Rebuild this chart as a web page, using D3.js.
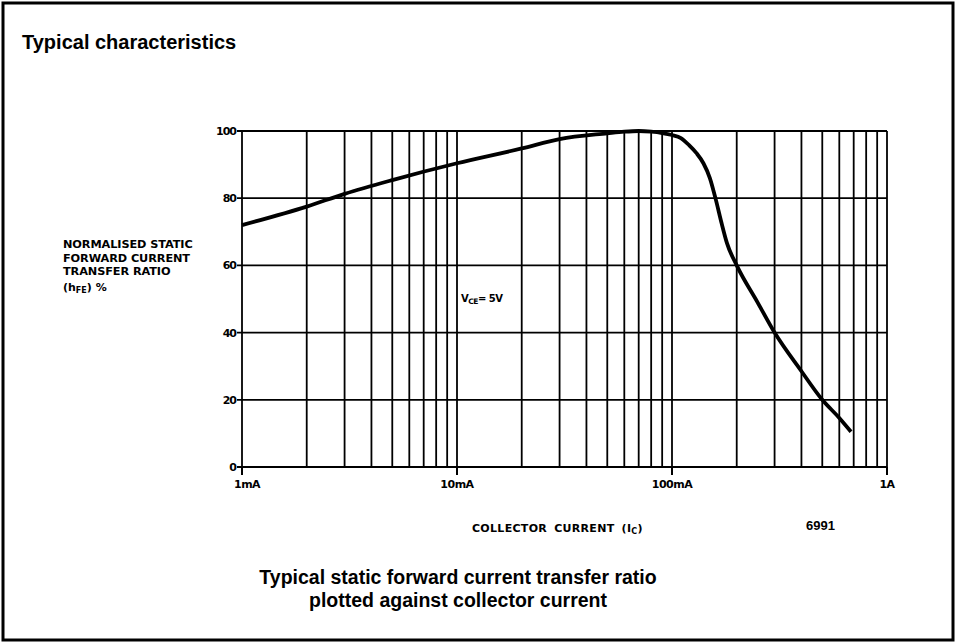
<!DOCTYPE html>
<html lang="en">
<head>
    <title>hFE vs collector current</title>
    <script src='https://d3js.org/d3.v7.min.js'></script>
    <style>
        body { margin: 0; background: #fff; }
        text { font-family: "Liberation Sans", Arial, sans-serif; fill: #000; }
        .small { font-family: "DejaVu Sans", sans-serif; font-weight: bold; }
    </style>
</head>
<body>
<script>

// collector current (mA) and normalised hFE (%)
var currents = [1, 2, 3, 5, 10, 20, 30, 50, 60, 70, 80, 90, 100, 110, 120, 130, 140, 150, 160, 170, 180, 200, 250, 300, 400, 500, 600, 680];
var hfe      = [72, 77.5, 81.3, 85.4, 90.4, 94.8, 97.6, 99.3, 99.8, 100, 99.8, 99.4, 98.8, 97.9, 95.8, 93.4, 90.4, 86, 79.5, 72.6, 66.7, 60, 49, 40, 28.5, 20, 14.6, 10.5];

var yTicks   = [0, 20, 40, 60, 80, 100];
var xTicks   = [1, 10, 100, 1000];
var xLabels  = ["1mA", "10mA", "100mA", "1A"];

const W = 956, H = 644;

const svg = d3.select("body")
    .append("svg")
    .attr("width", W)
    .attr("height", H);

// outer frame
svg.append("rect")
    .attr("x", 3).attr("y", 3)
    .attr("width", 950).attr("height", 637)
    .attr("fill", "none")
    .attr("stroke", "#000")
    .attr("stroke-width", 3);

svg.append("text")
    .attr("x", 22).attr("y", 49)
    .attr("font-size", 20)
    .attr("font-weight", "bold")
    .text("Typical characteristics");

// scales
var x = d3.scaleLog().domain([1, 1000]).range([242, 887]);
var y = d3.scaleLinear().domain([0, 100]).range([467, 131]);

// vertical grid: 1..9 in every decade
var gridX = [];
[1, 10, 100].forEach(function (dec) {
    for (var k = 1; k <= 9; k++) gridX.push(dec * k);
});
gridX.push(1000);

svg.append("g").selectAll("line")
    .data(gridX)
    .enter().append("line")
    .attr("x1", d => x(d)).attr("x2", d => x(d))
    .attr("y1", y(0)).attr("y2", y(100))
    .attr("stroke", "#000")
    .attr("stroke-width", 1.8);

svg.append("g").selectAll("line")
    .data(yTicks)
    .enter().append("line")
    .attr("x1", x(1) - 5).attr("x2", x(1000))
    .attr("y1", d => y(d)).attr("y2", d => y(d))
    .attr("stroke", "#000")
    .attr("stroke-width", 1.8);

// x axis ticks under the decades
svg.append("g").selectAll("line")
    .data(xTicks)
    .enter().append("line")
    .attr("x1", d => x(d)).attr("x2", d => x(d))
    .attr("y1", y(0)).attr("y2", y(0) + 8)
    .attr("stroke", "#000")
    .attr("stroke-width", 2);

svg.append("g").selectAll("text")
    .data(yTicks)
    .enter().append("text")
    .attr("class", "small")
    .attr("x", x(1) - 6)
    .attr("y", d => y(d) + 4)
    .attr("text-anchor", "end")
    .attr("font-size", 11)
    .attr("letter-spacing", -1)
    .text(d => d);

svg.append("g").selectAll("text")
    .data(xTicks)
    .enter().append("text")
    .attr("class", "small")
    .attr("x", d => x(d))
    .attr("y", 488)
    .attr("text-anchor", (d, i) => i == 0 ? "start" : "middle")
    .attr("dx", (d, i) => i == 0 ? -8 : 0)
    .attr("font-size", 11)
    .attr("letter-spacing", -0.5)
    .text((d, i) => xLabels[i]);

// the curve
var pts = currents.map((c, i) => [c, hfe[i]]);
var line = d3.line()
    .x(d => x(d[0]))
    .y(d => y(d[1]))
    .curve(d3.curveMonotoneX);

svg.append("path")
    .datum(pts)
    .attr("d", line)
    .attr("fill", "none")
    .attr("stroke", "#000")
    .attr("stroke-width", 3.8)
    .attr("stroke-linejoin", "round");

// y axis label
var yLab = ["NORMALISED STATIC", "FORWARD CURRENT", "TRANSFER RATIO"];
svg.append("g").selectAll("text")
    .data(yLab)
    .enter().append("text")
    .attr("class", "small")
    .attr("x", 63)
    .attr("y", (d, i) => 248 + i * 13.5)
    .attr("font-size", 11.3)
    .attr("letter-spacing", -0.1)
    .text(d => d);

var hl = svg.append("text")
    .attr("class", "small")
    .attr("x", 63).attr("y", 291)
    .attr("font-size", 11);
hl.append("tspan").text("(h");
hl.append("tspan").attr("font-size", 8).attr("dy", 2).text("FE");
hl.append("tspan").attr("dy", -2).text(")  %");

// Vce annotation
var vce = svg.append("text")
    .attr("class", "small")
    .attr("x", 461).attr("y", 302)
    .attr("font-size", 10)
    .attr("letter-spacing", -0.5);
vce.append("tspan").text("V");
vce.append("tspan").attr("font-size", 7.5).attr("dy", 2).text("CE");
vce.append("tspan").attr("dy", -2).text("= 5V");

// x axis label
var xl = svg.append("text")
    .attr("class", "small")
    .attr("x", 472).attr("y", 532)
    .attr("font-size", 11)
    .attr("letter-spacing", 0.3)
    .attr("word-spacing", 3);
xl.append("tspan").text("COLLECTOR  CURRENT  (I");
xl.append("tspan").attr("font-size", 8).attr("dy", 2).text("C");
xl.append("tspan").attr("dy", -2).text(")");

svg.append("text")
    .attr("x", 806).attr("y", 530)
    .attr("font-size", 13)
    .attr("font-weight", "bold")
    .text("6991");

// caption
var caption = ["Typical static forward current transfer ratio", "plotted against collector current"];
svg.append("g").selectAll("text")
    .data(caption)
    .enter().append("text")
    .attr("x", 458)
    .attr("y", (d, i) => 584 + i * 23)
    .attr("text-anchor", "middle")
    .attr("font-size", 19.5)
    .attr("font-weight", "bold")
    .text(d => d);

</script>
</body>
</html>
